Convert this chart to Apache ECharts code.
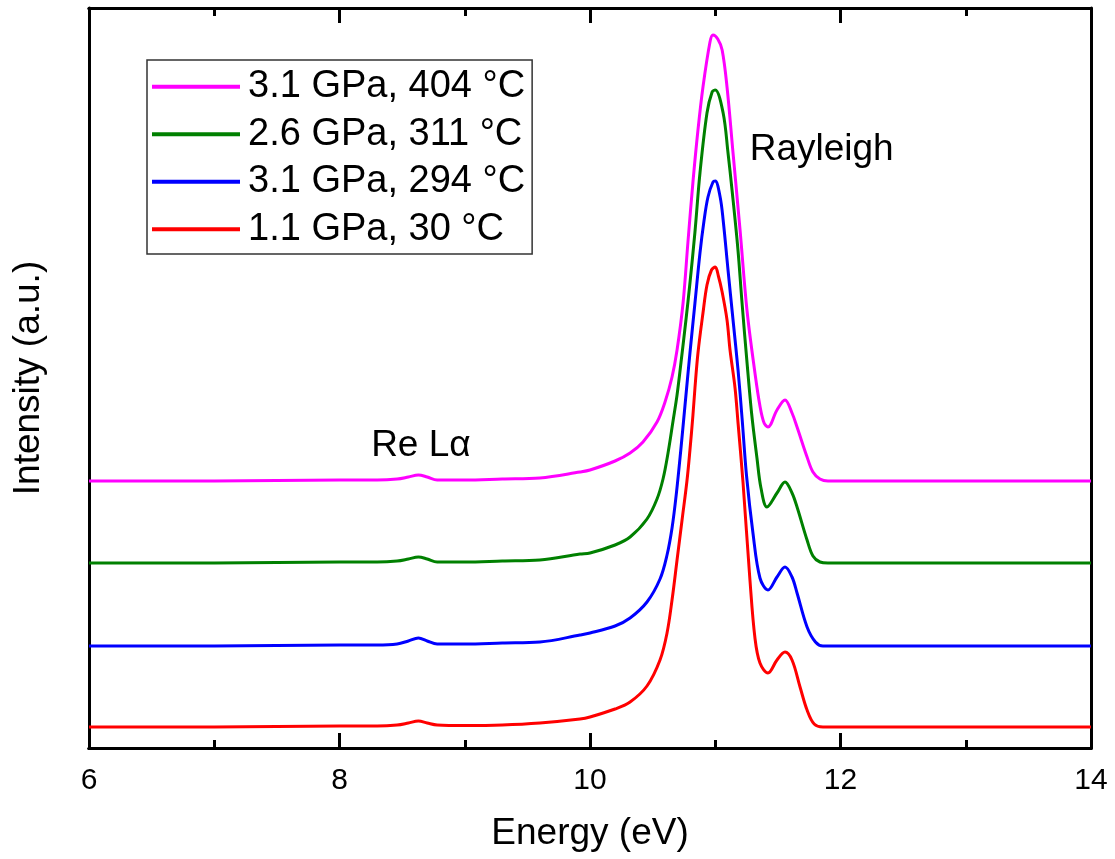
<!DOCTYPE html>
<html>
<head>
<meta charset="utf-8">
<script src="https://cdn.jsdelivr.net/npm/echarts@6/dist/echarts.min.js"></script>
<style>
html,body{margin:0;padding:0;background:#fff;}
#chart{width:1115px;height:859px;}
</style>
</head>
<body>
<div id="chart"></div>
<script>
// Series names (legend order, top to bottom)
const seriesNames = ['3.1 GPa, 404 °C', '2.6 GPa, 311 °C', '3.1 GPa, 294 °C', '1.1 GPa, 30 °C'];
const seriesColors = ['#FF00FF', '#008000', '#0000FF', '#FF0000'];

// [energy (eV), intensity (a.u., vertical offsets included)]
const spec404 = [[6,267],[7,267],[8,268],[8.3,268],[8.46,269],[8.55,271],[8.63,273],[8.7,271],[8.78,268],[9,268],[9.3,269],[9.6,270],[9.92,276],[10,278],[10.2,287],[10.32,295],[10.423,306],[10.535,326],[10.599,346],[10.655,371],[10.695,398],[10.743,445],[10.782,506],[10.822,566],[10.862,618],[10.902,661],[10.958,706],[10.982,713],[11.02,709],[11.055,698],[11.094,661],[11.142,595],[11.198,518],[11.254,437],[11.317,375],[11.357,342],[11.39,325],[11.421,321],[11.493,338],[11.557,348],[11.613,335],[11.653,321],[11.733,291],[11.78,276],[11.836,269],[11.9,267],[12,267],[13,267],[14,267]];

const spec311 = [[6,185],[7,185],[8,186],[8.3,186],[8.46,187],[8.55,189],[8.63,191],[8.7,189],[8.78,186],[9,186],[9.3,187],[9.6,188],[9.92,194],[10,195],[10.2,203],[10.32,211],[10.455,229],[10.535,249],[10.583,269],[10.623,295],[10.663,327],[10.695,353],[10.727,386],[10.766,428],[10.798,465],[10.838,516],[10.878,575],[10.934,635],[10.975,656],[11.0,658],[11.063,635],[11.102,595],[11.134,558],[11.18,500],[11.214,445],[11.254,385],[11.29,335],[11.333,290],[11.365,260],[11.413,241],[11.493,255],[11.557,266],[11.613,255],[11.653,241],[11.733,208],[11.78,192],[11.836,186],[11.9,185],[12,185],[13,185],[14,185]];

const spec294 = [[6,102],[7,102],[8,103],[8.3,103],[8.46,104],[8.55,107],[8.63,110],[8.7,107],[8.78,104],[9,104],[9.3,105],[9.6,106],[9.92,113],[10,115],[10.2,122],[10.32,130],[10.455,146],[10.559,169],[10.615,193],[10.655,220],[10.69,255],[10.725,298],[10.758,342],[10.798,395],[10.838,445],[10.878,495],[10.91,527],[10.942,551],[10.982,566],[11.0,567],[11.039,551],[11.063,528],[11.102,478],[11.142,428],[11.182,378],[11.214,330],[11.25,272],[11.301,215],[11.357,170],[11.421,158],[11.493,171],[11.557,181],[11.613,171],[11.653,155],[11.733,121],[11.8,106],[11.86,102],[12,102],[13,102],[14,102]];

const spec30 = [[6,21],[7,21],[8,22],[8.3,22],[8.46,23],[8.55,25],[8.63,27],[8.7,25],[8.78,23],[9,22.5],[9.3,23],[9.6,25],[9.92,29],[10,31],[10.2,39],[10.32,46],[10.455,62],[10.559,88],[10.615,115],[10.655,148],[10.695,188],[10.735,228],[10.774,267],[10.798,298],[10.822,333],[10.838,360],[10.862,395],[10.902,435],[10.934,463],[10.97,478],[11.0,481],[11.025,472],[11.055,456],[11.094,428],[11.118,398],[11.158,360],[11.182,325],[11.222,265],[11.277,168],[11.317,110],[11.357,85],[11.421,75],[11.493,88],[11.557,96],[11.613,88],[11.677,61],[11.733,38],[11.79,24],[11.86,21],[12,21],[13,21],[14,21]];

const spectra = [spec404, spec311, spec294, spec30];

// x-axis range / ticks
const xMin = 6, xMax = 14, xInterval = 2;
const yMin = 0, yMax = 740;

// Annotations: [text, energy, intensity]
const annotations = [['Rayleigh', 11.85, 598], ['Re L\u03B1', 8.65, 302]];

const FONT = 'Arial, "Liberation Sans", sans-serif';
const chart = echarts.init(document.getElementById('chart'));

// tick-only axes (inward ticks), same scale as the labelled axis
function tickAxis(pos, interval, split, majorLen, minorLen) {
  return {
    type: 'value', min: xMin, max: xMax, interval: interval, position: pos,
    axisLine: {show: true, onZero: false, lineStyle: {color: '#000', width: 3}},
    axisTick: {show: true, inside: true, length: majorLen, lineStyle: {color: '#000', width: 3}},
    minorTick: {show: true, splitNumber: split, length: minorLen, lineStyle: {color: '#000', width: 3}},
    axisLabel: {show: false},
    splitLine: {show: false}, minorSplitLine: {show: false}
  };
}

const option = {
  animation: false,
  backgroundColor: '#fff',
  textStyle: {fontFamily: FONT},
  grid: {left: 89, right: 24, top: 8, bottom: 111},
  legend: {
    data: seriesNames,
    orient: 'vertical',
    left: 147, top: 60,
    padding: [3, 7, 1, 5],
    itemGap: 0,
    itemWidth: 88, itemHeight: 4,
    icon: 'rect',
    borderColor: '#333', borderWidth: 1.5,
    backgroundColor: '#fff',
    textStyle: {fontFamily: FONT, fontSize: 38, color: '#000', lineHeight: 47.5, padding: [0, 0, 0, 3]}
  },
  xAxis: [{
    type: 'value', min: xMin, max: xMax, interval: xInterval, position: 'bottom',
    name: 'Energy (eV)', nameLocation: 'middle', nameGap: 67,
    nameTextStyle: {fontFamily: FONT, fontSize: 37, color: '#000'},
    axisLine: {show: true, onZero: false, lineStyle: {color: '#000', width: 3}},
    axisTick: {show: false},
    axisLabel: {show: true, fontFamily: FONT, fontSize: 30, color: '#000', margin: 18},
    splitLine: {show: false}
  },
  tickAxis('bottom', xInterval, 2, 15, 8),
  tickAxis('bottom', 8, 4, 15, 15),
  tickAxis('top', xInterval, 2, 15, 8),
  tickAxis('top', 8, 4, 15, 15)],
  yAxis: [{
    type: 'value', min: yMin, max: yMax, position: 'left',
    name: 'Intensity (a.u.)', nameLocation: 'middle', nameGap: 42,
    nameTextStyle: {fontFamily: FONT, fontSize: 37, color: '#000'},
    axisLine: {show: true, onZero: false, lineStyle: {color: '#000', width: 3}},
    axisTick: {show: false}, axisLabel: {show: false}, splitLine: {show: false}
  }, {
    type: 'value', min: yMin, max: yMax, position: 'right',
    axisLine: {show: true, onZero: false, lineStyle: {color: '#000', width: 3}},
    axisTick: {show: false}, axisLabel: {show: false}, splitLine: {show: false}
  }],
  series: seriesNames.map((name, i) => ({
    name: name, type: 'line', data: spectra[i],
    showSymbol: false, symbol: 'none',
    smooth: 0.35,
    color: seriesColors[i],
    lineStyle: {color: seriesColors[i], width: 3}
  }))
};
chart.setOption(option);

const graphics = annotations.map(a => {
  const p = chart.convertToPixel({gridIndex: 0}, [a[1], a[2]]);
  return {type: 'text', x: p[0], y: p[1], z: 100,
    style: {text: a[0], fontFamily: FONT, fontSize: 37, fill: '#000', textAlign: 'center', textVerticalAlign: 'middle'}};
});
chart.setOption({graphic: graphics});
</script>
</body>
</html>
